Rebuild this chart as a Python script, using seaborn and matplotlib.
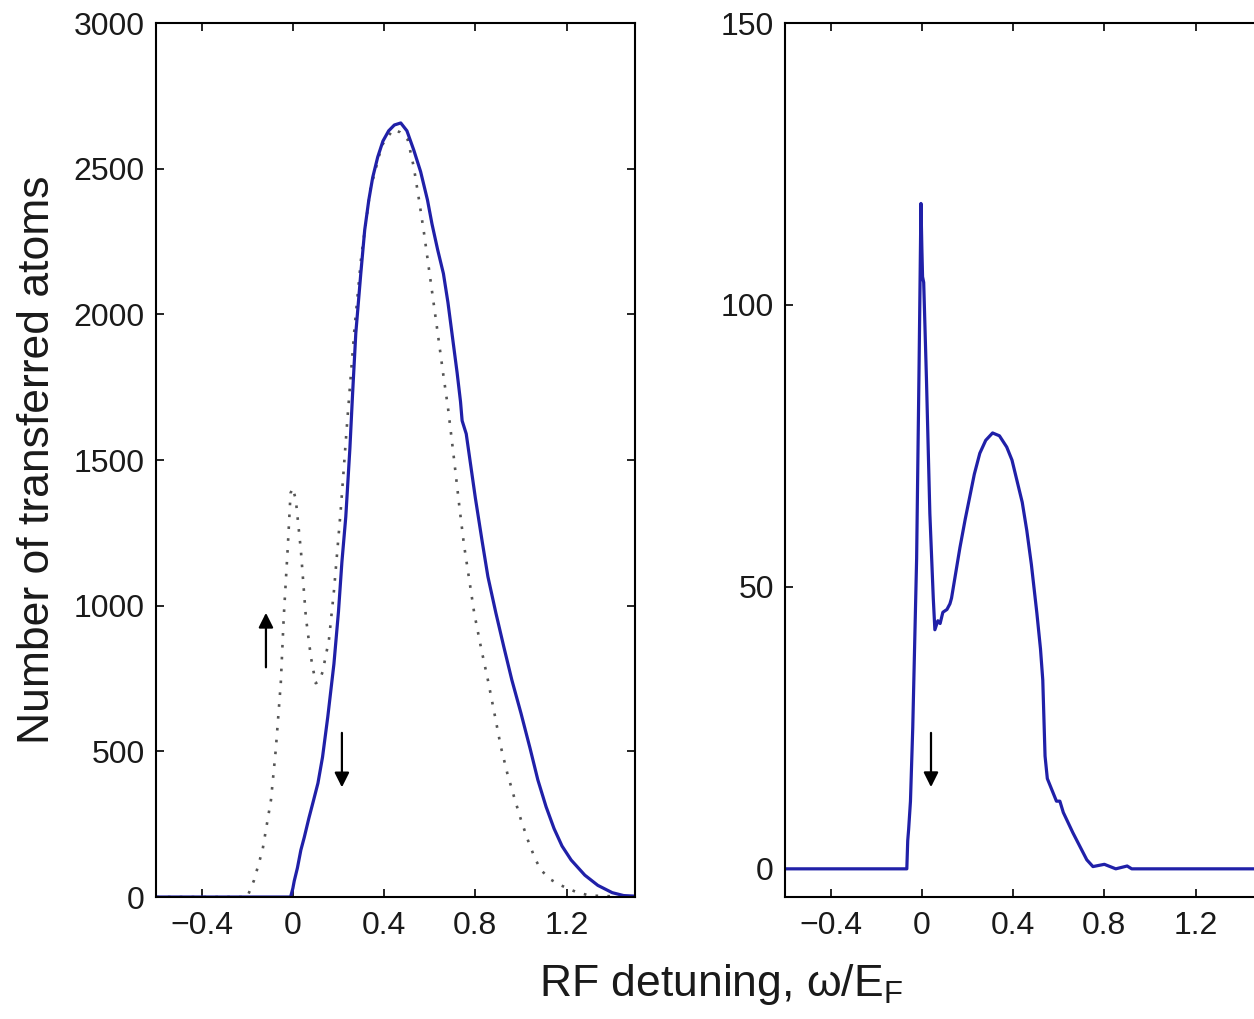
import matplotlib
matplotlib.use('Agg')
import matplotlib.pyplot as plt
import seaborn as sns

# left panel: solid curve
left_x = [-0.6, -0.01, 0.0, 0.006, 0.02, 0.035, 0.05, 0.07, 0.09, 0.11, 0.13, 0.153, 0.18, 0.2,
          0.215, 0.232, 0.25, 0.262, 0.276, 0.298, 0.315, 0.333, 0.35, 0.372, 0.395, 0.42,
          0.445, 0.473, 0.5, 0.53, 0.56, 0.59, 0.61, 0.635, 0.66, 0.68, 0.7, 0.72, 0.735,
          0.742, 0.76, 0.78, 0.8, 0.83, 0.855, 0.89, 0.925, 0.96, 1.0, 1.04, 1.074, 1.11,
          1.145, 1.18, 1.22, 1.28, 1.337, 1.4, 1.45, 1.5]
left_y = [0, 0, 30, 55, 100, 161, 205, 270, 330, 391, 480, 618, 800, 980,
          1150, 1305, 1540, 1730, 1936, 2142, 2290, 2393, 2470, 2540, 2595, 2630,
          2650, 2657, 2630, 2564, 2490, 2393, 2310, 2221, 2140, 2040, 1920, 1800, 1700,
          1635, 1590, 1480, 1370, 1220, 1100, 975, 858, 745, 631, 510, 402, 310,
          235, 175, 127, 75, 40, 15, 5, 3]

# left panel: dotted curve
dot_x = [-0.6, -0.2, -0.17, -0.133, -0.096, -0.075, -0.053, -0.04, -0.023, -0.01, 0.0, 0.013,
         0.035, 0.057, 0.079, 0.1, 0.115, 0.13, 0.158, 0.18, 0.21, 0.24, 0.27, 0.3, 0.34,
         0.39, 0.44, 0.47, 0.504, 0.53, 0.553, 0.575, 0.605, 0.635, 0.66, 0.68, 0.707,
         0.73, 0.75, 0.775, 0.795, 0.825, 0.855, 0.885, 0.912, 0.94, 0.97, 1.0, 1.03,
         1.06, 1.087, 1.13, 1.175, 1.24, 1.3, 1.5]
dot_y = [0, 0, 58, 161, 333, 505, 734, 961, 1191, 1387, 1404, 1363,
         1191, 961, 824, 734, 740, 772, 882, 1050, 1330, 1650, 1950, 2200, 2430,
         2580, 2635, 2625, 2599, 2506, 2393, 2279, 2108, 1936, 1790, 1680, 1500,
         1340, 1210, 1080, 975, 855, 745, 625, 515, 425, 343, 265, 196,
         135, 93, 60, 40, 18, 5, 0]

# right panel
right_x = [-0.6, -0.066, -0.062, -0.058, -0.05, -0.04, -0.023, -0.012, -0.004, 0.0, 0.003,
           0.008, 0.02, 0.035, 0.05, 0.057, 0.07, 0.08, 0.092, 0.11, 0.123, 0.13, 0.167,
           0.19, 0.21, 0.23, 0.254, 0.28, 0.31, 0.34, 0.372, 0.395, 0.416, 0.44, 0.46,
           0.48, 0.504, 0.52, 0.53, 0.54, 0.55, 0.575, 0.59, 0.605, 0.62, 0.662, 0.723,
           0.75, 0.8, 0.85, 0.9, 0.92, 1.5]
right_y = [0, 0, 5, 7, 12, 25, 55, 90, 118, 110, 105,
           104, 87, 63, 48, 42.4, 44, 43.5, 45.5, 46, 47, 48, 57,
           62, 66, 70, 73.7, 76, 77.3, 76.8, 74.8, 72.5, 69, 65, 60,
           54, 45.4, 39, 33.5, 20, 16, 13.5, 12, 12, 10, 6.4, 1.6,
           0.4, 0.8, 0, 0.5, 0, 0]

xticks = [-0.4, 0, 0.4, 0.8, 1.2]
xticklabels = ['\u22120.4', '0', '0.4', '0.8', '1.2']
left_yticks = [0, 500, 1000, 1500, 2000, 2500, 3000]
right_yticks = [0, 50, 100, 150]

sns.set_style('ticks')
plt.rcParams['font.family'] = ['Liberation Sans', 'DejaVu Sans']
plt.rcParams['mathtext.fontset'] = 'custom'
plt.rcParams['mathtext.rm'] = 'Liberation Sans'
plt.rcParams['mathtext.it'] = 'Liberation Sans'

blue = '#2020a8'
fig = plt.figure(figsize=(12.54, 10.19), dpi=100)
ax1 = fig.add_axes([0.1244, 0.1197, 0.382, 0.8577])
ax2 = fig.add_axes([0.626, 0.1197, 0.382, 0.8577])

sns.lineplot(x=dot_x, y=dot_y, ax=ax1, color='#555555', lw=1.9,
             linestyle=(0, (1, 3.5)), estimator=None, sort=False)
sns.lineplot(x=left_x, y=left_y, ax=ax1, color=blue, lw=2.3, estimator=None, sort=False)
sns.lineplot(x=right_x, y=right_y, ax=ax2, color=blue, lw=2.3, estimator=None, sort=False)

ax1.set_xlim(-0.6, 1.5)
ax1.set_ylim(0, 3000)
ax1.set_yticks(left_yticks)
ax2.set_xlim(-0.6, 1.5)
ax2.set_ylim(-5, 150)
ax2.set_yticks(right_yticks)

for ax in (ax1, ax2):
    ax.set_xticks(xticks)
    ax.set_xticklabels(xticklabels)
    ax.tick_params(direction='in', top=True, right=True, length=6, width=1.2,
                   labelsize=23, color='black', labelcolor='#1a1a1a')
    ax.tick_params(axis='y', pad=8)
    ax.tick_params(axis='x', pad=10)
    for s in ax.spines.values():
        s.set_linewidth(1.5)
        s.set_color('black')

arrow = dict(arrowstyle='-|>', color='black', lw=1.6, mutation_scale=22)
ax1.annotate('', xy=(-0.118, 985), xytext=(-0.118, 779), arrowprops=arrow)
ax1.annotate('', xy=(0.215, 367), xytext=(0.215, 573), arrowprops=arrow)
ax2.annotate('', xy=(0.04, 14), xytext=(0.04, 24.6), arrowprops=arrow)

ax1.set_ylabel('Number of transferred atoms', fontsize=32, color='#1a1a1a')
ax1.yaxis.set_label_coords(-0.205, 0.5)
fig.text(0.575, 0.034, r'RF detuning, ω/E$_{\rm F}$', fontsize=32, color='#1a1a1a',
         ha='center', va='center')

fig.savefig('out.png', dpi=100)
